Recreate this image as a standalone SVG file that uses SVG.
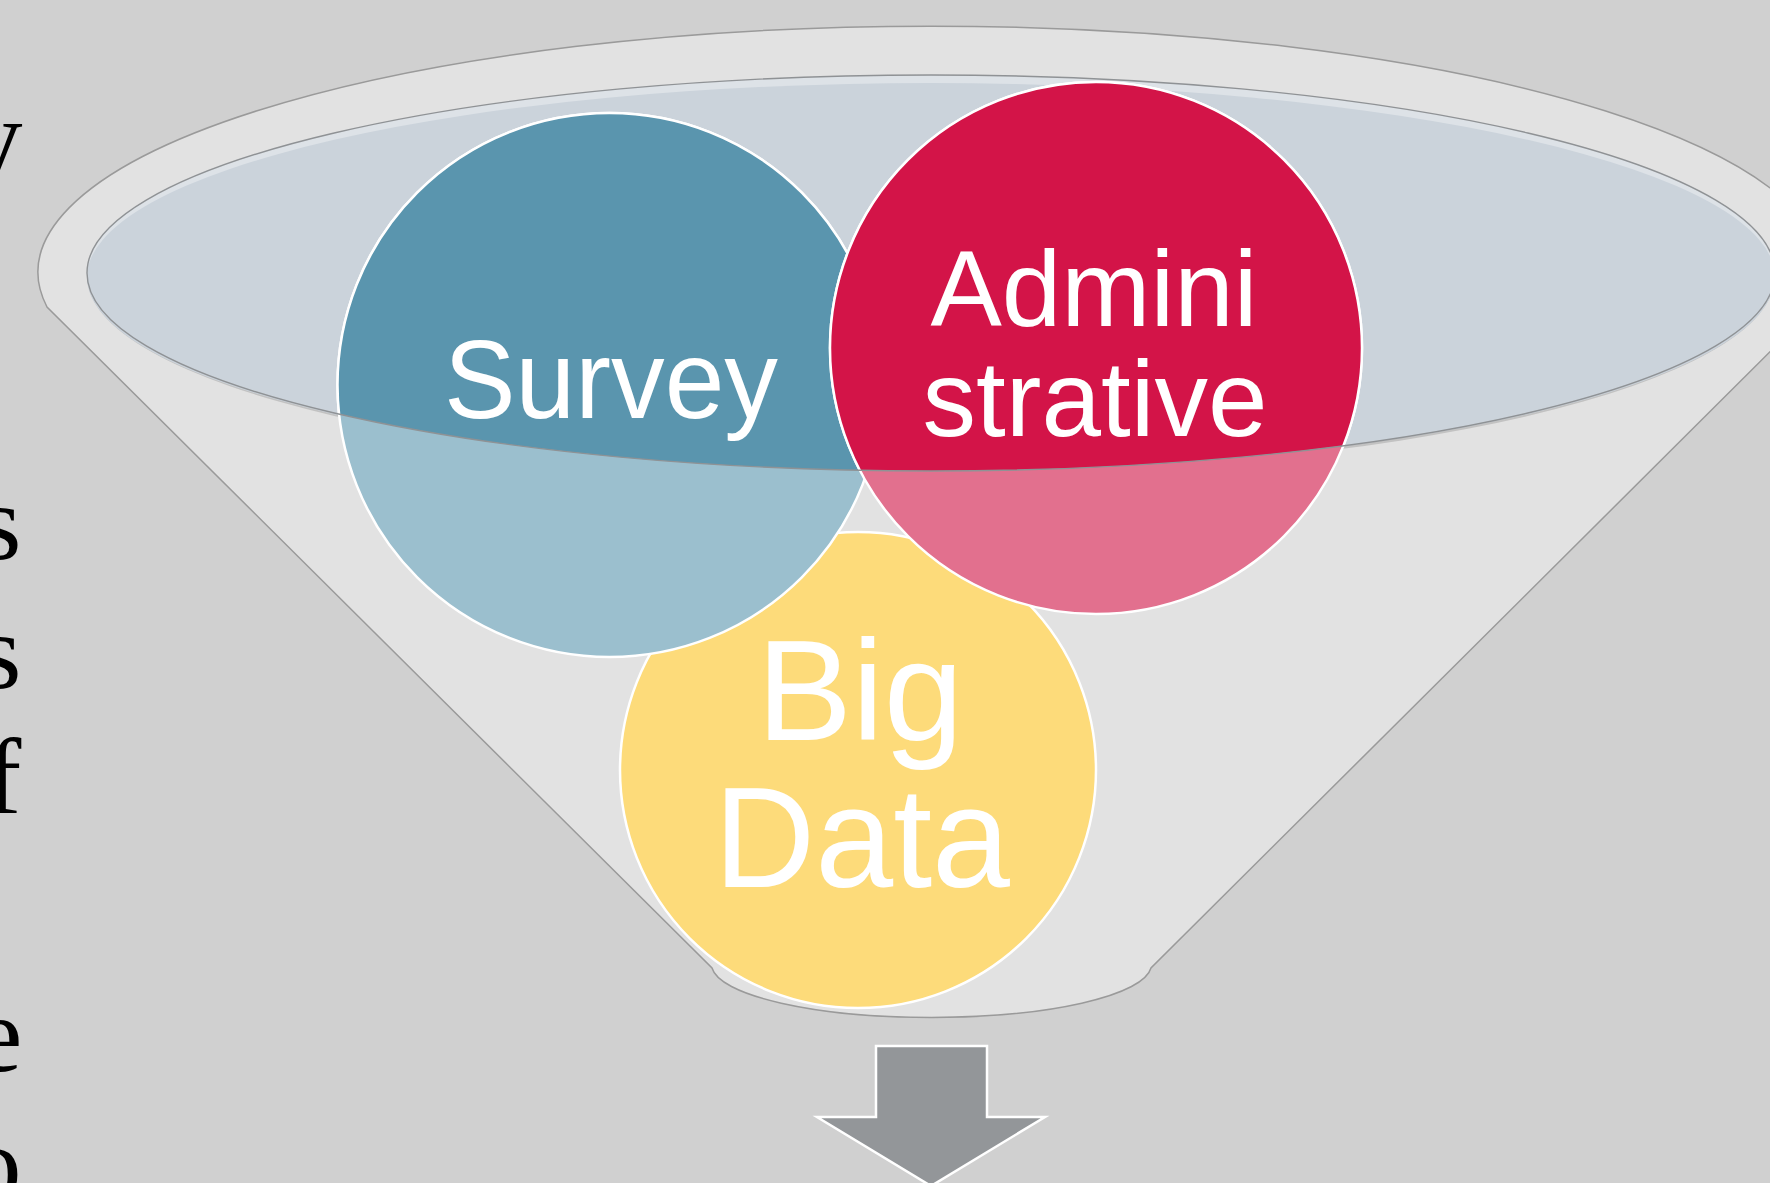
<svg xmlns="http://www.w3.org/2000/svg" width="1770" height="1183" viewBox="0 0 1770 1183">
  <style>
    .bg { fill: #d0d0d0; }
    .funnel { fill: #e2e2e2; stroke: #9a9a9a; stroke-width: 1.5; }
    .surface { fill: #cbd3db; }
    .surface-rim { fill: #dde2e7; }
    .surface-line { fill: none; stroke: #8f9295; stroke-width: 1.4; }
    .surface-shadow { fill: #c2c2c2; }
    .ring { stroke: #ffffff; stroke-width: 2.5; }
    .label { font-family: "Liberation Sans", Arial, sans-serif; fill: #ffffff; text-anchor: middle; }
    .body-text { font-family: "Liberation Serif", "Times New Roman", serif; font-size: 109px; fill: #000000; }
    .arrow { fill: #939699; stroke: #ffffff; stroke-width: 2.5; stroke-linejoin: miter; }
  </style>
  <defs>
    <!-- liquid surface of the funnel: circles show full colour inside it -->
    <clipPath id="surface-clip">
      <ellipse cx="931" cy="273" rx="844" ry="198"/>
    </clipPath>
  </defs>

  <rect class="bg" x="0" y="0" width="1770" height="1183"/>

  <!-- ends of paragraph lines running off the left edge -->
  <g id="side-text">
    <text class="body-text" x="-32" y="174">y</text>
    <text class="body-text" x="-21" y="559">s</text>
    <text class="body-text" x="-21" y="688">s</text>
    <text class="body-text" x="-15" y="813">f</text>
    <text class="body-text" x="-26" y="1071">e</text>
    <text class="body-text" x="-33" y="1200">o</text>
  </g>

  <!-- funnel body: outer rim arc, two sides, rounded spout -->
  <g id="funnel">
    <path class="funnel" d="M 47 307 A 893 246 0 1 1 1815 307 L 1151 968 A 220 53 0 0 1 712 968 Z"/>
    <ellipse class="surface-shadow" cx="931" cy="276" rx="844" ry="198"/>
    <ellipse class="surface-rim" cx="931" cy="273" rx="844" ry="198"/>
    <ellipse class="surface" cx="931" cy="277" rx="844" ry="194"/>
  </g>

  <g id="node-bigdata">
    <circle class="ring" cx="858" cy="770" r="238" fill="#fddb7a"/>
    <text class="label" x="860" y="740" font-size="143">Big</text>
    <text class="label" x="862" y="887" font-size="143" textLength="296" lengthAdjust="spacingAndGlyphs">Data</text>
  </g>

  <g id="node-survey">
    <circle class="ring" cx="609.5" cy="385" r="272" fill="#9bbfce"/>
    <circle class="ring" cx="609.5" cy="385" r="272" fill="#5a95ae" clip-path="url(#surface-clip)"/>
    <text class="label" x="611" y="418" font-size="111" textLength="334" lengthAdjust="spacingAndGlyphs">Survey</text>
  </g>

  <g id="node-administrative">
    <circle class="ring" cx="1096" cy="348" r="266" fill="#e2708e"/>
    <circle class="ring" cx="1096" cy="348" r="266" fill="#d31448" clip-path="url(#surface-clip)"/>
    <text class="label" x="1094" y="326" font-size="107">Admini</text>
    <text class="label" x="1095" y="436" font-size="107">strative</text>
  </g>

  <!-- rim of the liquid surface drawn across the circles -->
  <ellipse class="surface-line" cx="931" cy="273" rx="844" ry="198"/>

  <g id="connectors">
    <polygon class="arrow" points="876,1046 987,1046 987,1117 1045,1117 931,1186 817,1117 876,1117"/>
  </g>
</svg>
